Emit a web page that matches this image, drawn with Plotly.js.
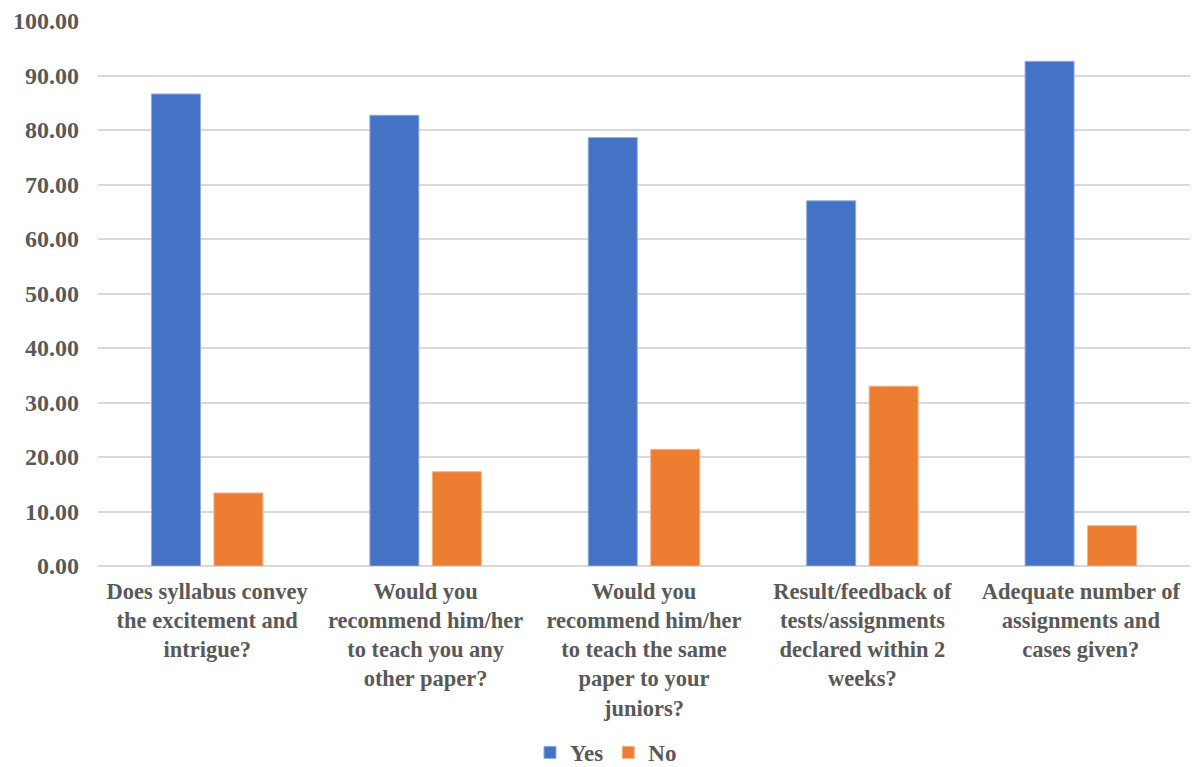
<!DOCTYPE html>
<html>
<head>
<meta charset="utf-8">
<script src="https://cdn.plot.ly/plotly-3.0.1.min.js"></script>
<style>html,body{margin:0;padding:0;background:#fff;}#chart{width:1200px;height:767px;}</style>
</head>
<body>
<div id="chart"></div>
<script>
var categories = [
  "Does syllabus convey<br>the excitement and<br>intrigue?",
  "Would you<br>recommend him/her<br>to teach you any<br>other paper?",
  "Would you<br>recommend him/her<br>to teach the same<br>paper to your<br>juniors?",
  "Result/feedback of<br>tests/assignments<br>declared within 2<br>weeks?",
  "Adequate number of<br>assignments and<br>cases given?"
];
var yesValues = [86.6, 82.7, 78.6, 67.0, 92.6];
var noValues = [13.4, 17.3, 21.4, 33.0, 7.4];
var tickVals = [0, 10, 20, 30, 40, 50, 60, 70, 80, 90, 100];
var tickText = ["0.00", "10.00", "20.00", "30.00", "40.00", "50.00", "60.00", "70.00", "80.00", "90.00", "100.00"];

var fontFam = "'Liberation Serif', 'Times New Roman', serif";
var gray = "#595959";

var data = [
  {type: "bar", name: "Yes", x: categories, y: yesValues,
   marker: {color: "#4472C4", line: {color: "#8FAADC", width: 1}}, hoverinfo: "y"},
  {type: "bar", name: "No", x: categories, y: noValues,
   marker: {color: "#ED7D31", line: {color: "#F4B183", width: 1}}, hoverinfo: "y"}
];

var layout = {
  width: 1200, height: 767,
  margin: {l: 98, r: 10, t: 21, b: 201, autoexpand: false},
  paper_bgcolor: "#fff", plot_bgcolor: "#fff",
  barmode: "group", bargap: 0.428, bargroupgap: 0.216,
  font: {family: fontFam, color: gray, size: 22},
  xaxis: {
    tickfont: {family: fontFam, size: 22.5, color: gray, weight: "bold"},
    showgrid: false, zeroline: false, showline: false, ticks: "", tickangle: 0, automargin: false,
    ticklabelstandoff: 9
  },
  yaxis: {
    range: [0, 100], tickvals: tickVals, ticktext: tickText,
    tickfont: {family: fontFam, size: 24, color: gray, weight: "bold"},
    showgrid: true, gridcolor: "#D9D9D9", gridwidth: 2,
    zeroline: true, zerolinecolor: "#D9D9D9", zerolinewidth: 2,
    showline: false, ticks: "", ticklen: 0, automargin: false,
    ticklabelstandoff: 18
  },
  showlegend: true,
  legend: {orientation: "h", x: 0.505, xref: "container", xanchor: "center", yref: "container", y: 0.019, yanchor: "middle",
    font: {family: fontFam, size: 23, color: gray, weight: "bold"}, itemwidth: 30, traceorder: "normal"}
};

Plotly.newPlot("chart", data, layout, {displayModeBar: false, staticPlot: true});
</script>
</body>
</html>
